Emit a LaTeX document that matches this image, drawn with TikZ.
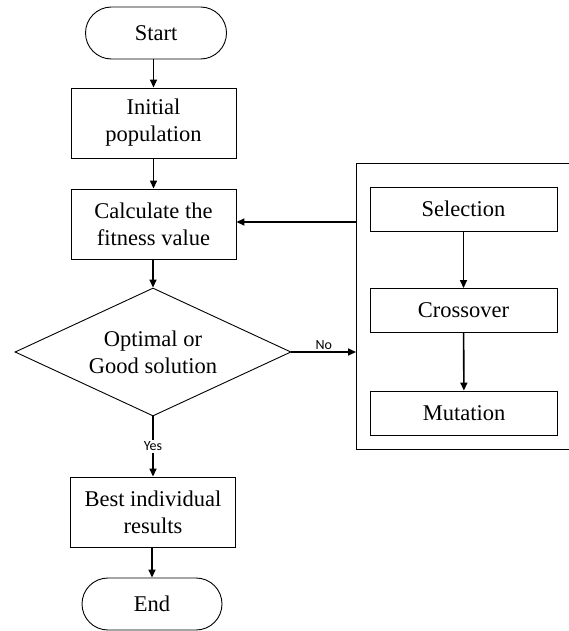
\documentclass[tikz,border=0pt]{standalone}
\usepackage{fontspec}
\setmainfont{Liberation Serif}
\newfontfamily\lblfont{Carlito}
\usetikzlibrary{shapes.geometric,arrows.meta}

\tikzset{
  terminal/.style={draw, line width=0.9pt, rounded corners=26pt, minimum width=141pt,
    minimum height=52pt, inner sep=0pt, font=\fontsize{22.5}{27}\selectfont},
  procbox/.style={draw, line width=0.9pt, minimum width=165pt, minimum height=70pt,
    inner sep=0pt, align=center, font=\fontsize{22.5}{27}\selectfont},
  opbox/.style={draw, line width=0.9pt, minimum width=187pt, minimum height=44pt,
    inner sep=0pt, font=\fontsize{22.5}{27}\selectfont},
  decision/.style={draw, line width=0.9pt, diamond, aspect=2.16, minimum width=276pt,
    minimum height=128pt, inner sep=0pt, align=center, font=\fontsize{22.5}{27}\selectfont},
  flow/.style={line width=1.6pt, -{Triangle[length=8pt,width=7pt]}},
  plainline/.style={line width=1.6pt},
  branchlbl/.style={font=\lblfont\fontsize{14}{16}\selectfont, inner sep=1.5pt}
}

\begin{document}
\begin{tikzpicture}[x=1pt, y=-1pt]
  \path[use as bounding box] (0,0) rectangle (569,631);
  \fill[white] (0,0) rectangle (569,631);
  \clip (0,0) rectangle (569,631);

  % main column
  \node[terminal] (start) at (156,33) {Start};
  \node[procbox] (init) at (153.5,123) {Initial\\population};
  \node[procbox] (fit) at (153.5,224) {Calculate the\\fitness value};
  \node[decision] (cond) at (153,352) {Optimal or\\Good solution};
  \node[procbox] (best) at (153,512) {Best individual\\results};
  \node[terminal, minimum width=140pt] (end) at (152,604) {End};

  % genetic operators group (open to the right edge)
  \node[draw, line width=0.9pt, anchor=north west, minimum width=270pt,
        minimum height=286pt, inner sep=0pt] (ops) at (356,163) {};
  \node[opbox] (sel) at (463.5,209) {Selection};
  \node[opbox] (cross) at (463.5,310.5) {Crossover};
  \node[opbox] (mut) at (464,413) {Mutation};

  % connectors
  \draw[flow] (start.south -| init.north) -- (init.north);
  \draw[flow] (init) -- (fit);
  \draw[flow] (fit.south -| cond.north) -- (cond.north);
  \draw[flow] (cond.south) -- node[branchlbl, fill=white] {Yes} (best.north -| cond.south);
  \draw[flow] (best.south -| end.north) -- (end.north);
  \draw[flow] (cond.east) -- node[branchlbl, above] {No} (cond.east -| ops.west);
  \draw[flow] (ops.west |- 0,222) -- (fit.east |- 0,222);
  \draw[flow] (sel) -- (cross);
  \draw[flow] (cross) -- (mut);
\end{tikzpicture}
\end{document}
